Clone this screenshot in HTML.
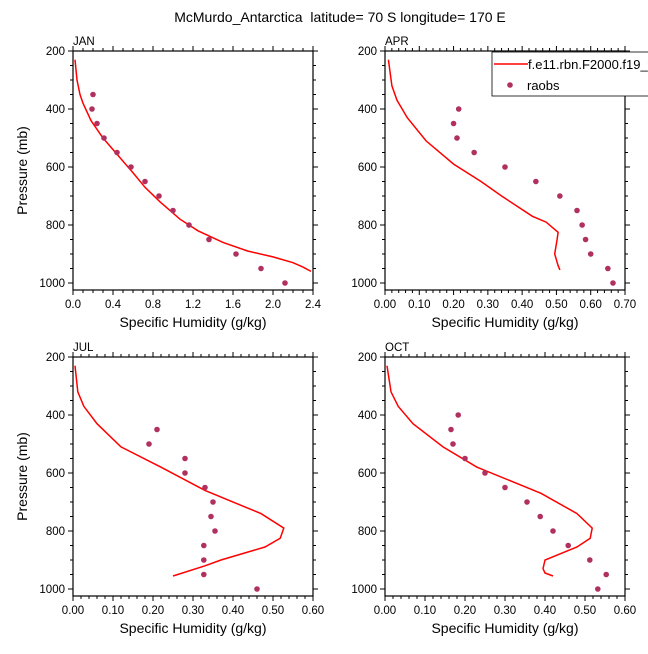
<!DOCTYPE html>
<html><head><meta charset="utf-8"><style>
body{margin:0;background:#fff;}
svg{font-family:"Liberation Sans",Helvetica,sans-serif;}
</style></head><body>
<svg id="c" width="648" height="649" xmlns="http://www.w3.org/2000/svg">
<text x="340" y="22" font-size="14" text-anchor="middle">McMurdo_Antarctica&#160; latitude= 70 S longitude= 170 E</text>
</svg>
<script>
const janLineP=[230,300,350,380,440,500,560,620,670,720,780,820,860,890,910,930,945,960];
const janLineQ=[0.02,0.04,0.07,0.10,0.18,0.30,0.45,0.60,0.72,0.87,1.07,1.25,1.50,1.75,2.00,2.20,2.30,2.38];
const janObsP=[350,400,450,500,550,600,650,700,750,800,850,900,950,1000];
const janObsQ=[0.20,0.19,0.24,0.31,0.44,0.58,0.72,0.86,1.00,1.16,1.36,1.63,1.88,2.12];
const aprLineP=[230,320,370,430,510,590,650,700,770,790,825,850,900,940,955];
const aprLineQ=[0.01,0.02,0.035,0.065,0.12,0.20,0.28,0.34,0.43,0.47,0.505,0.502,0.495,0.505,0.51];
const aprObsP=[400,450,500,550,600,650,700,750,800,850,900,950,1000];
const aprObsQ=[0.215,0.20,0.21,0.26,0.35,0.44,0.51,0.56,0.575,0.585,0.60,0.65,0.665];
const julLineP=[230,320,370,430,510,580,660,740,790,825,855,900,920,955];
const julLineQ=[0.005,0.012,0.027,0.06,0.12,0.22,0.33,0.47,0.527,0.518,0.48,0.37,0.33,0.25];
const julObsP=[450,500,550,600,650,700,750,800,850,900,950,1000];
const julObsQ=[0.21,0.19,0.28,0.28,0.33,0.35,0.345,0.355,0.327,0.327,0.327,0.46];
const octLineP=[230,320,370,430,510,580,670,740,790,825,855,900,930,945,955];
const octLineQ=[0.005,0.015,0.033,0.07,0.145,0.23,0.39,0.48,0.518,0.513,0.48,0.40,0.395,0.40,0.42];
const octObsP=[400,450,500,550,600,650,700,750,800,850,900,950,1000];
const octObsQ=[0.183,0.165,0.17,0.20,0.25,0.30,0.355,0.388,0.42,0.458,0.512,0.553,0.532];
const janXTicks=[0,0.4,0.8,1.2,1.6,2.0,2.4];
const aprXTicks=[0,0.1,0.2,0.3,0.4,0.5,0.6,0.7];
const sixXTicks=[0,0.1,0.2,0.3,0.4,0.5,0.6];
const yTicks=[200,400,600,800,1000];

const svg=document.getElementById('c');
const NS='http://www.w3.org/2000/svg';
function mk(tag,attrs,parent){const e=document.createElementNS(NS,tag);for(const k in attrs)e.setAttribute(k,attrs[k]);(parent||svg).appendChild(e);return e;}

function panel(name,x0,x1,top,xmax,xt,dec,minorStep,lp,lq,op,oq,showY){
  const g=mk('g',{});
  
  
  const right=x1,bottom=top+239;
  const X=q=>x0+(q/xmax)*(x1-x0);
  const Y=p=>top+(p-200)/800*232;
  const fr=mk('rect',{x:x0,y:top,width:x1-x0,height:bottom-top,fill:'none',stroke:'#000','stroke-width':1.2},g);
  
  
  for(let p=200;p<=1000;p+=50){
    const major=p%200===0, L=major?5:3;
    mk('line',{x1:x0-L,y1:Y(p),x2:x0,y2:Y(p),stroke:'#000','stroke-width':1},g);
    mk('line',{x1:right,y1:Y(p),x2:right+L,y2:Y(p),stroke:'#000','stroke-width':1},g);
  }
  yTicks.forEach(p=>{
    const t=mk('text',{x:x0-8,y:Y(p)+4,'font-size':11.5,'text-anchor':'end'},g);
    t.textContent=p;
    
    
  });
  for(let q=0;q<=xmax+1e-9;q+=minorStep){
    const major=xt.some(v=>Math.abs(v-q)<1e-6), L=major?5:3;
    mk('line',{x1:X(q),y1:bottom,x2:X(q),y2:bottom+L,stroke:'#000','stroke-width':1},g);
    mk('line',{x1:X(q),y1:top-L,x2:X(q),y2:top,stroke:'#000','stroke-width':1},g);
  }
  xt.forEach(q=>{
    const t=mk('text',{x:X(q),y:bottom+18,'font-size':11.5,'text-anchor':'middle'},g);
    t.textContent=q.toFixed(dec);
    
    
  });
  const xt2=mk('text',{x:(x0+x1)/2,y:bottom+37,'font-size':14,'text-anchor':'middle'},g);
  xt2.textContent='Specific Humidity (g/kg)';
  
  
  if(showY){
    const yt=mk('text',{x:0,y:0,'font-size':14,'text-anchor':'middle',transform:`translate(27,${(top+bottom)/2}) rotate(-90)`},g);
    yt.textContent='Pressure (mb)';
    
    
  }
  const lab=mk('text',{x:x0,y:top-6,'font-size':11.5},g);
  lab.textContent=name.toUpperCase();
  
  
  const pts=lp.map((p,i)=>X(lq[i]).toFixed(1)+','+Y(p).toFixed(1)).join(' ');
  const pl=mk('polyline',{points:pts,fill:'none',stroke:'#ff0000','stroke-width':1.5},g);
  
  
  op.forEach((p,i)=>{
    const c=mk('circle',{cx:X(oq[i]),cy:Y(p),r:2.8,fill:'#b03060'},g);
    
    
  });
}
panel('jan',73,313,51,2.4,janXTicks,1,0.1,janLineP,janLineQ,janObsP,janObsQ,true);
panel('apr',385,625,51,0.7,aprXTicks,2,0.02,aprLineP,aprLineQ,aprObsP,aprObsQ,false);
panel('jul',73,313,357,0.6,sixXTicks,2,0.02,julLineP,julLineQ,julObsP,julObsQ,true);
panel('oct',385,625,357,0.6,sixXTicks,2,0.02,octLineP,octLineQ,octObsP,octObsQ,false);

const lg=mk('g',{});


mk('rect',{x:492,y:52,width:170,height:44,fill:'#fff',stroke:'#000','stroke-width':0.8},lg);
const l1=mk('line',{x1:494,y1:64,x2:528,y2:64,stroke:'#ff0000','stroke-width':1.5},lg);


const t1=mk('text',{x:528,y:69,'font-size':13},lg);
t1.textContent='f.e11.rbn.F2000.f19_f19';


const c1=mk('circle',{cx:510,cy:85,r:2.8,fill:'#b03060'},lg);


const t2=mk('text',{x:527,y:90,'font-size':13},lg);
t2.textContent='raobs';


</script>
</body></html>
